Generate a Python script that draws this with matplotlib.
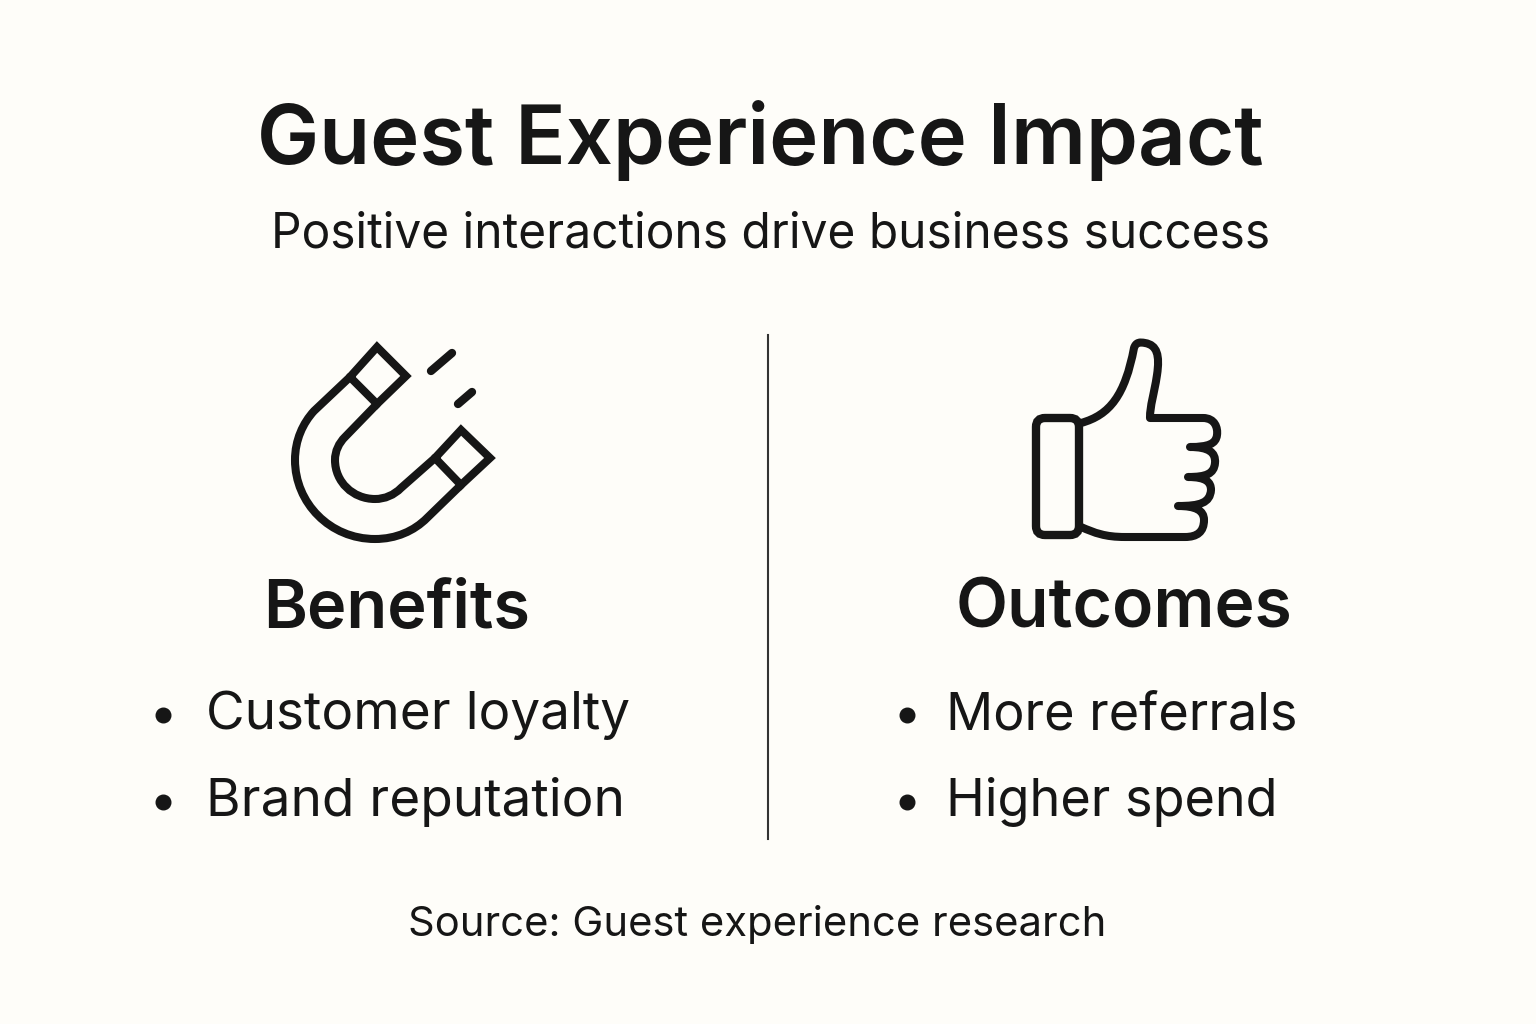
import matplotlib
matplotlib.use("Agg")
import matplotlib.pyplot as plt
from matplotlib.path import Path
from matplotlib.patches import PathPatch, FancyBboxPatch

title = "Guest Experience Impact"
subtitle = "Positive interactions drive business success"
headings = ["Benefits", "Outcomes"]
benefits = ["Customer loyalty", "Brand reputation"]
outcomes = ["More referrals", "Higher spend"]
source = "Source: Guest experience research"

INK = "#161616"
BG = "#FEFDF9"
plt.rcParams['font.family'] = ['Inter', 'Liberation Sans', 'DejaVu Sans']

fig = plt.figure(figsize=(15.36, 10.24), dpi=100, facecolor=BG)
ax = fig.add_axes([0, 0, 1, 1])
ax.set_xlim(0, 1536); ax.set_ylim(1024, 0); ax.axis("off")

def txt(x, y, s, size, weight="normal", ha="left"):
    ax.text(x, y, s, fontsize=size, fontweight=weight, color=INK, ha=ha, va="baseline")

txt(257, 164, title, 59.9, "semibold")
txt(271, 247, subtitle, 34.45)
txt(263, 628, headings[0], 48, "semibold")
txt(956, 628, headings[1], 48.8, "semibold")
for i, (b, o) in enumerate(zip(benefits, outcomes)):
    y = 729 + i * 87
    txt(206, y, b, 38.2)
    txt(946, y, o, 37.6)
    ax.plot([163, 907], [y - 14, y - 14], ls="none", marker="o", ms=10.5, color=INK)
txt(408, 936, source, 30.05)
ax.plot([768, 768], [335, 839], color="#333333", lw=1.5)

def C(a, b, c, d, e, f):
    return ("C", (a, b), (c, d), (e, f))

def draw(segs, lw=5.8, cap="round", join="miter"):
    verts, codes = [], []
    for s in segs:
        if s[0] == "M":
            verts.append((s[1], s[2])); codes.append(Path.MOVETO)
        elif s[0] == "L":
            verts.append((s[1], s[2])); codes.append(Path.LINETO)
        else:
            verts += [s[1], s[2], s[3]]; codes += [Path.CURVE4] * 3
    ax.add_patch(PathPatch(Path(verts, codes), fc="none", ec=INK, lw=lw,
                           capstyle=cap, joinstyle=join))

# magnet
draw([("M", 350, 377), ("L", 377, 347), ("L", 406, 376), ("L", 377, 404), ("L", 350, 377)])
draw([("M", 435, 458), ("L", 461, 430), ("L", 490, 458), ("L", 461, 485), ("L", 435, 458)])
draw([("M", 350, 377), ("L", 314, 411),
      C(303, 423, 295, 440, 295, 460),
      C(295, 503, 330, 539, 375, 539),
      C(396, 539, 414, 531, 427, 518),
      ("L", 461, 485)])
draw([("M", 377, 404), ("L", 345, 437),
      C(339, 443, 335, 451, 335, 460),
      C(335, 482, 353, 499, 375, 499),
      C(385, 499, 394, 495, 401, 488),
      ("L", 435, 458)])
draw([("M", 431, 371), ("L", 452, 353)], lw=6)
draw([("M", 458, 404), ("L", 472, 392)], lw=6)

# thumb
ax.add_patch(FancyBboxPatch((1036, 418), 43, 117, boxstyle="round,pad=0,rounding_size=9",
                            fc=BG, ec=INK, lw=6))
draw([("M", 1081, 423),
      C(1110, 415, 1125, 395, 1134, 348),
      C(1136, 342, 1140, 342, 1145, 343),
      C(1157, 345, 1160, 355, 1157, 375),
      C(1154, 395, 1150, 405, 1150, 418),
      ("L", 1203, 418),
      C(1215, 418, 1218, 428, 1217, 435),
      C(1216, 444, 1208, 447, 1190, 447),
      C(1208, 447, 1216, 452, 1215, 463),
      C(1214, 474, 1206, 477, 1188, 477),
      C(1206, 477, 1211, 482, 1211, 490),
      C(1210, 503, 1200, 506, 1178, 506),
      C(1195, 506, 1204, 510, 1204, 520),
      C(1204, 532, 1197, 537, 1185, 537),
      ("L", 1125, 537),
      C(1105, 537, 1095, 533, 1081, 527)], join="round")

fig.savefig("out.png", dpi=100, facecolor=BG)
